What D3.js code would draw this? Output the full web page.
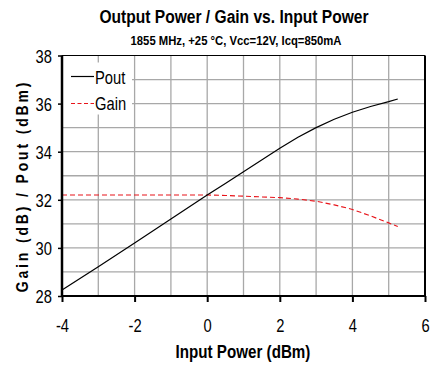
<!DOCTYPE html>
<html>
<head>
<meta charset="utf-8">
<script src="https://cdn.jsdelivr.net/npm/d3@7"></script>
<style>
  body { margin: 0; background: #fff; }
  svg { display: block; font-family: "Liberation Sans", Arial, sans-serif; }
</style>
</head>
<body>
<div id="chart"></div>
<script>
// Input power (dBm)
const pin = [-4, -3, -2, -1, 0, 0.5, 1, 1.5, 2, 2.5, 3, 3.5, 4, 4.5, 5, 5.25];
// Output power (dBm)
const pout = [28.25, 29.22, 30.2, 31.2, 32.2, 32.68, 33.17, 33.65, 34.14, 34.6, 35.0, 35.35, 35.64, 35.88, 36.08, 36.19];
// Gain (dB)
const gain = [32.2, 32.2, 32.2, 32.2, 32.2, 32.18, 32.15, 32.12, 32.09, 32.03, 31.94, 31.79, 31.6, 31.33, 31.04, 30.89];

const xTicks = [-4, -2, 0, 2, 4, 6];
const yTicks = [28, 30, 32, 34, 36, 38];

const W = 432, H = 371;
const margin = { top: 55.5, right: 7, bottom: 75, left: 62 };
const width = W - margin.left - margin.right;
const height = H - margin.top - margin.bottom;

// the original uses a narrow face; squeeze the regular one
const NARROW = 0.82;

const x = d3.scaleLinear().domain([-4, 6]).range([0, width]);
const y = d3.scaleLinear().domain([28, 38]).range([height, 0]);

const svg = d3.select("#chart").append("svg")
    .attr("width", W)
    .attr("height", H);

function label(px, py, txt, size, bold, k) {
    return svg.append("text")
        .attr("transform", "translate(" + px + "," + py + ") scale(" + (k || NARROW) + ",1)")
        .attr("text-anchor", "middle")
        .style("font-weight", bold ? "bold" : "normal")
        .style("font-size", size + "px")
        .text(txt);
}

// Titles
label(234, 23, "Output Power / Gain vs. Input Power", 19, true);
label(236, 45, "1855 MHz, +25 °C, Vcc=12V, Icq=850mA", 13.3, true, 0.85);

const g = svg.append("g")
    .attr("transform", "translate(" + margin.left + "," + margin.top + ")");

// Grid
g.append("g")
    .selectAll("line")
    .data(d3.range(-3, 6))
    .enter().append("line")
    .attr("x1", d => x(d)).attr("x2", d => x(d))
    .attr("y1", 0).attr("y2", height)
    .attr("stroke", "#a8a8a8").attr("stroke-width", 1.3);

g.append("g")
    .selectAll("line")
    .data(d3.range(29, 38))
    .enter().append("line")
    .attr("x1", 0).attr("x2", width)
    .attr("y1", d => y(d)).attr("y2", d => y(d))
    .attr("stroke", "#a8a8a8").attr("stroke-width", 1.3);

// Frame
g.append("line").attr("x1", 0).attr("x2", width).attr("y1", 0).attr("y2", 0)
    .attr("stroke", "#000").attr("stroke-width", 1.2);
g.append("line").attr("x1", width).attr("x2", width).attr("y1", 0).attr("y2", height)
    .attr("stroke", "#000").attr("stroke-width", 2);

// Legend box
const legend = g.append("g");
legend.append("rect")
    .attr("x", 1).attr("y", 7)
    .attr("width", 69).attr("height", 52)
    .attr("fill", "#fff");

// Lines
const line = d3.line()
    .x((d, i) => x(pin[i]))
    .y(d => y(d));

g.append("path")
    .datum(gain)
    .attr("fill", "none")
    .attr("stroke", "#e8141a")
    .attr("stroke-width", 1.1)
    .attr("stroke-dasharray", "5,3")
    .attr("d", line);

g.append("path")
    .datum(pout)
    .attr("fill", "none")
    .attr("stroke", "#000")
    .attr("stroke-width", 1.2)
    .attr("d", line);

// Axes
const xAxis = g.append("g")
    .attr("transform", "translate(0," + height + ")")
    .call(d3.axisBottom(x).tickValues(xTicks).tickSize(6).tickPadding(0).tickFormat(d => String(d)));
xAxis.select(".domain").attr("stroke-width", 2).attr("d", "M0,0H" + width);
xAxis.selectAll(".tick line").attr("stroke-width", 2);
xAxis.selectAll("text")
    .attr("y", null).attr("dy", null)
    .attr("transform", "translate(0,36) scale(" + NARROW + ",1)")
    .style("font-size", "18px").attr("fill", "#000");

const yAxis = g.append("g")
    .call(d3.axisLeft(y).tickValues(yTicks).tickSize(4).tickPadding(0).tickFormat(d => String(d)));
yAxis.select(".domain").attr("stroke-width", 2.5).attr("d", "M0,0V" + height);
yAxis.selectAll(".tick line").attr("stroke-width", 1.5);
yAxis.selectAll("text")
    .attr("x", null).attr("dy", null)
    .attr("transform", "translate(-10,6.5) scale(" + NARROW + ",1)")
    .style("font-size", "18px").attr("fill", "#000");

// Legend entries
legend.append("line")
    .attr("x1", 9).attr("x2", 32).attr("y1", 21).attr("y2", 21)
    .attr("stroke", "#000").attr("stroke-width", 1.2);
legend.append("text")
    .attr("transform", "translate(33,28) scale(" + NARROW + ",1)")
    .style("font-size", "18px")
    .text("Pout");
legend.append("line")
    .attr("x1", 9).attr("x2", 32).attr("y1", 48).attr("y2", 48)
    .attr("stroke", "#e8141a").attr("stroke-width", 1.1)
    .attr("stroke-dasharray", "4,2.5");
legend.append("text")
    .attr("transform", "translate(33,54.5) scale(" + NARROW + ",1)")
    .style("font-size", "18px")
    .text("Gain");

// Axis labels
label(243, 358, "Input Power (dBm)", 18.5, true);

svg.append("text")
    .attr("transform", "translate(28,186) rotate(-90) scale(" + NARROW + ",1)")
    .attr("text-anchor", "middle")
    .style("font-weight", "bold").style("font-size", "17px")
    .style("letter-spacing", "3.5px")
    .text("Gain (dB) / Pout (dBm)");
</script>
</body>
</html>
